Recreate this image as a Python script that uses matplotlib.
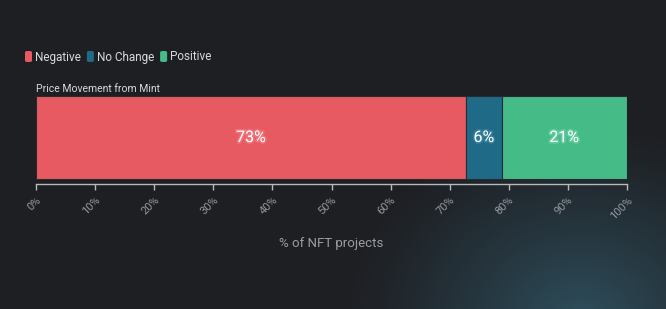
import numpy as np
import matplotlib
matplotlib.use("Agg")
import matplotlib.pyplot as plt
import matplotlib.patheffects as pe
from matplotlib.patches import FancyBboxPatch

categories = ["Negative", "No Change", "Positive"]
values = [72.8, 6.0, 21.2]
labels = ["73%", "6%", "21%"]
colors = ["#e85a62", "#1f6b87", "#45bb88"]
glow = ["#ff9aa0", "#5aa0bb", "#8fe8c0"]
row_label = "Price Movement from Mint"
xticks = list(range(0, 101, 10))
xlabel = "% of NFT projects"

plt.rcParams['font.family'] = ['Roboto', 'DejaVu Sans']
BG = "#1e1f23"
W, H = 666, 309
fig = plt.figure(figsize=(W / 100, H / 100), dpi=100)
fig.patch.set_facecolor(BG)

# background with radial glow
bg = fig.add_axes([0, 0, 1, 1], zorder=-10)
yy, xx = np.mgrid[0:H, 0:W]
d = np.sqrt(((xx - 580) / 1.2) ** 2 + (yy - 320) ** 2)
t = np.clip(1 - d / 200, 0, 1) ** 1.2
base = np.array([0x1e, 0x1f, 0x23]) / 255
glowc = np.array([0x2e, 0x4e, 0x5c]) / 255
img = base[None, None, :] * (1 - t[..., None]) + glowc[None, None, :] * t[..., None]
bg.imshow(img, aspect="auto", extent=[0, W, H, 0])
bg.set_xlim(0, W); bg.set_ylim(H, 0)
bg.axis("off")

# main axes: x from px 36 to 627, y from axis line (184) to bar top (96)
left, right = 36 / W, 627 / W
bottom, top = 1 - 184 / H, 1 - 96 / H
ax = fig.add_axes([left, bottom, right - left, top - bottom])
ax.set_facecolor("none")
ax.set_xlim(0, 100)
ax.set_ylim(-0.5 - 5 / 83, 0.5)

start = 0
for v, c, lab, g in zip(values, colors, labels, glow):
    ax.barh(0, v, left=start, height=1.0, color=c, edgecolor="#2a2b30", linewidth=0.8)
    ax.text(start + v / 2, 0, lab, ha="center", va="center", color="white",
            fontsize=11.5, fontweight="normal",
            path_effects=[pe.withStroke(linewidth=2.5, foreground=g, alpha=0.35)])
    start += v

for s in ["top", "right", "left"]:
    ax.spines[s].set_visible(False)
ax.spines["bottom"].set_color("#b8b9bc")
ax.spines["bottom"].set_linewidth(1.0)
ax.set_yticks([])
ax.set_xticks(xticks)
ax.set_xticklabels([f"{x}%" for x in xticks], rotation=45, ha="right",
                   rotation_mode="anchor", fontsize=8)
ax.tick_params(axis="x", colors="#b8b9bc", length=4, width=1, pad=4,
               labelcolor="#94979c")
ax.set_xlabel(xlabel, color="#9a9da2", fontsize=9.5, labelpad=11)

fig.text(36 / W, 1 - 89 / H, row_label, color="#d8d9dc", fontsize=7.5,
         ha="left", va="center")

# legend
lx = 25
ly = 1 - 57 / H
for cat, c in zip(categories, colors):
    p = FancyBboxPatch((lx / W, ly - 5 / H), 7 / W, 11 / H,
                       boxstyle="round,pad=0,rounding_size=0.004",
                       transform=fig.transFigure, facecolor=c, edgecolor="none")
    fig.patches.append(p)
    tx = fig.text((lx + 10) / W, ly, cat, color="#d8d9dc", fontsize=8.5,
                  ha="left", va="center")
    fig.canvas.draw()
    bb = tx.get_window_extent()
    lx = bb.x1 + 6

fig.savefig("out.png", dpi=100, facecolor=BG)
